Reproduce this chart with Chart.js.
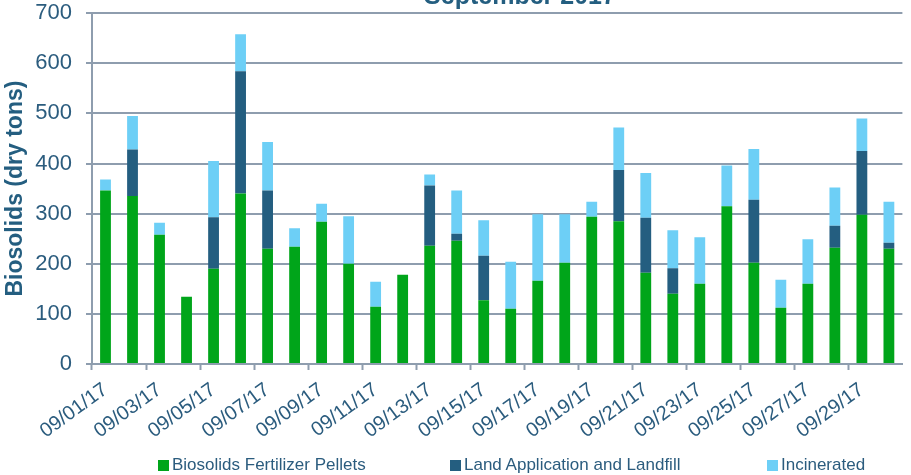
<!DOCTYPE html>
<html>
<head>
<meta charset="utf-8">
<script src="https://cdn.jsdelivr.net/npm/chart.js@4/dist/chart.umd.min.js"></script>
<style>
  html, body { margin: 0; padding: 0; background: #ffffff; }
  #wrap { position: relative; width: 911px; height: 475px; overflow: hidden; }
  #c { position: absolute; left: 0; top: -14px; }
  .lg { position: absolute; top: 455px; font: 17px "Liberation Sans", Arial, sans-serif; color: #2B5C7E; white-space: nowrap; line-height: 20px; }
  .lg i { display: inline-block; width: 11px; height: 11px; margin-right: 3px; vertical-align: -1px; }
</style>
</head>
<body>
<div id="wrap">
  <canvas id="c" width="911" height="489"></canvas>
  <div id="legend"></div>
</div>
<script>
const titleText = "September 2017";
const yAxisTitle = "Biosolids (dry tons)";
const categories = ["09/01/17","09/02/17","09/03/17","09/04/17","09/05/17","09/06/17","09/07/17","09/08/17","09/09/17","09/10/17",
  "09/11/17","09/12/17","09/13/17","09/14/17","09/15/17","09/16/17","09/17/17","09/18/17","09/19/17","09/20/17",
  "09/21/17","09/22/17","09/23/17","09/24/17","09/25/17","09/26/17","09/27/17","09/28/17","09/29/17","09/30/17"];
const seriesNames = ["Biosolids Fertilizer Pellets", "Land Application and Landfill", "Incinerated"];
const pellets = [346,335,258,134,190,340,230,234,284,200,114,178,236,246,127,110,166,202,294,285,182,140,160,315,202,112,160,232,298,230];
const landApp = [0,93,0,0,103,244,116,0,0,0,0,0,120,14,89,0,0,0,0,102,110,51,0,0,126,0,0,44,127,12];
const incinerated = [22,67,24,0,112,74,97,37,36,95,50,0,22,86,71,94,133,97,30,85,89,76,93,81,101,56,89,76,65,82];
const yTicks = [0,100,200,300,400,500,600,700];

const colors = ["#00A51A", "#245E80", "#6DCFF6"];
const textColor = "#2B5C7E";
const fontFamily = '"Liberation Sans", Arial, sans-serif';
const majorGrid = "#8E9DAE";
const minorGrid = "#C6CED6";

const titlePlugin = {
  id: 'cutTitle',
  afterDraw(chart) {
    const ctx = chart.ctx;
    ctx.save();
    ctx.font = 'bold 25px ' + fontFamily;
    ctx.fillStyle = "#245E80";
    ctx.textAlign = 'center';
    ctx.textBaseline = 'alphabetic';
    ctx.fillText(titleText, 520, chart.chartArea.top - 9);
    ctx.restore();
  }
};

const chart = new Chart(document.getElementById('c'), {
  type: 'bar',
  data: {
    labels: categories,
    datasets: [
      { label: seriesNames[0], data: pellets, backgroundColor: colors[0] },
      { label: seriesNames[1], data: landApp, backgroundColor: colors[1] },
      { label: seriesNames[2], data: incinerated, backgroundColor: colors[2] }
    ]
  },
  options: {
    responsive: false,
    devicePixelRatio: 1,
    animation: false,
    layout: { padding: { top: 0, right: 0, bottom: 0, left: 0 } },
    datasets: { bar: { categoryPercentage: 1.0, barPercentage: 0.4 } },
    plugins: {
      legend: { display: false },
      title: { display: false },
      tooltip: { enabled: false }
    },
    scales: {
      x: {
        stacked: true,
        afterFit(scale) { scale.height = 111; },
        grid: {
          offset: true,
          drawOnChartArea: false,
          drawTicks: true,
          tickLength: 6,
          tickWidth: 2,
          tickColor: (ctx) => (ctx.index % 2 === 0 ? majorGrid : 'rgba(0,0,0,0)')
        },
        border: { display: true, color: majorGrid, width: 2 },
        ticks: {
          autoSkip: false,
          minRotation: 36,
          maxRotation: 36,
          padding: 8,
          color: textColor,
          font: { family: fontFamily, size: 20 },
          callback: function(value, index) { return index % 2 === 0 ? this.getLabelForValue(value) : ''; }
        }
      },
      y: {
        stacked: true,
        min: 0,
        max: 700,
        afterFit(scale) { scale.width = 92; },
        ticks: {
          stepSize: 50,
          padding: 14,
          color: textColor,
          font: { family: fontFamily, size: 22 },
          callback: (v) => (yTicks.includes(v) ? String(v) : '')
        },
        grid: {
          color: (ctx) => (ctx.tick && ctx.tick.value % 100 === 0 ? majorGrid : minorGrid),
          tickColor: (ctx) => (ctx.tick && ctx.tick.value % 100 === 0 ? majorGrid : 'rgba(0,0,0,0)'),
          lineWidth: 2,
          tickLength: 6
        },
        border: { display: true, color: majorGrid, width: 2 },
        title: {
          display: true,
          text: yAxisTitle,
          color: "#245E80",
          font: { family: fontFamily, size: 23, weight: 'bold' },
          padding: { top: 2, bottom: 2 }
        }
      }
    }
  },
  plugins: [titlePlugin]
});

// HTML legend built from the chart's datasets
const legendLefts = [158, 450, 767];
const legendEl = document.getElementById('legend');
chart.data.datasets.forEach((ds, i) => {
  const item = document.createElement('div');
  item.className = 'lg';
  item.style.left = legendLefts[i] + 'px';
  const sw = document.createElement('i');
  sw.style.background = ds.backgroundColor;
  item.appendChild(sw);
  item.appendChild(document.createTextNode(ds.label));
  legendEl.appendChild(item);
});
</script>
</body>
</html>
